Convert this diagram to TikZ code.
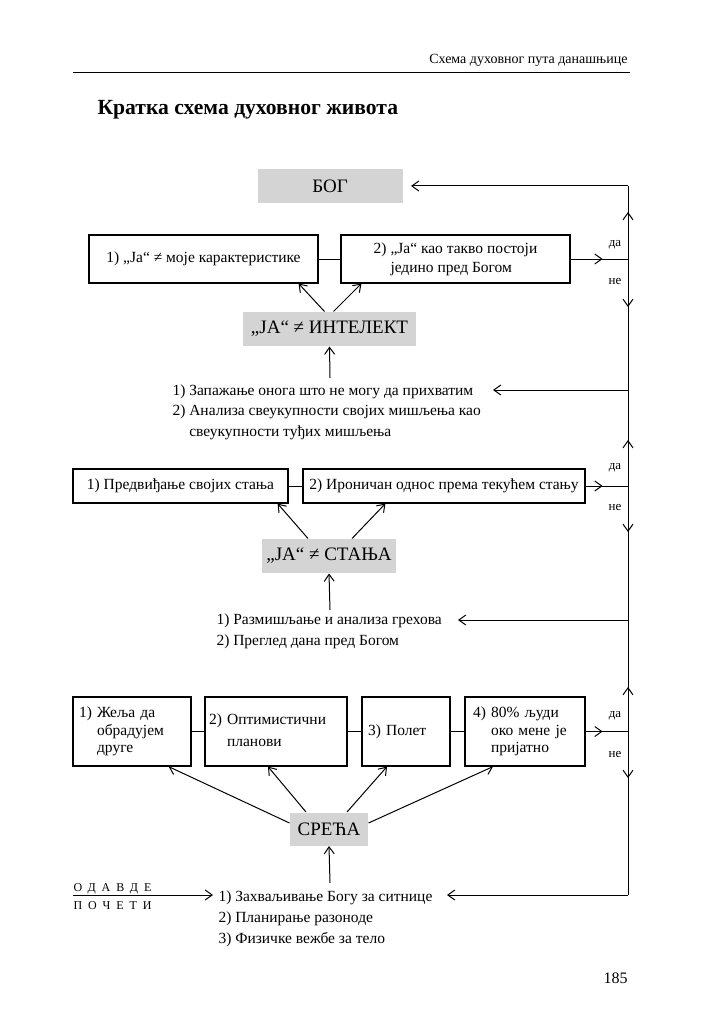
\documentclass[tikz,border=0pt]{standalone}
\usepackage{fontspec}
\setmainfont{Liberation Serif}
\usetikzlibrary{arrows.meta}
\definecolor{boxgray}{RGB}{212,212,212}
\newcommand\fbody{\fontsize{15.5}{19}\selectfont}
\newcommand\fbig{\fontsize{19}{23}\selectfont}
\newcommand\fsmall{\fontsize{13}{15}\selectfont}
\begin{document}
\begin{tikzpicture}[x=1pt,y=-1pt,
  >={Straight Barb[length=7pt,width=10pt]},
  line width=1pt,
  wbox/.style={draw,line width=1.2pt,inner sep=0pt,font=\fbody},
  gbox/.style={fill=boxgray,inner sep=0pt,font=\fbig},
  txt/.style={anchor=base west,inner sep=0pt,font=\fbody},
  yn/.style={anchor=base,inner sep=0pt,font=\fsmall},
  conn/.style={line width=1pt},
  arr/.style={->,line width=1pt}]
\useasboundingbox (0,0) rectangle (707,1024);
% header
\node[anchor=base east,inner sep=0pt,font=\fontsize{14}{16}\selectfont] (hdr) at (628,64) {Схема духовног пута данашњице};
\coordinate (rl) at (73,72); \coordinate (rr) at (630,72);
\draw[line width=0.9pt] (rl) -- (rr);
\node[anchor=base west,inner sep=0pt,font=\fontsize{21.6}{25}\selectfont\bfseries] (title) at (97,115) {Кратка схема духовног живота};
% bus
\coordinate (top) at (628,186);
\coordinate (j1) at (628,259);
\coordinate (r1) at (628,390);
\coordinate (j2) at (628,486);
\coordinate (r2) at (628,620);
\coordinate (j3) at (628,731.5);
\coordinate (bot) at (628,895);
\draw[conn] (top) -- (bot);
% top section
\node[gbox,minimum width=145pt,minimum height=34pt] (bog) at (330,186) {БОГ};
\node[wbox,minimum width=229pt,minimum height=48pt] (a1) at (203.5,259) {1) „Ја“ ≠ моје карактеристике};
\node[wbox,minimum width=229pt,minimum height=48pt,align=left] (a2) at (455.5,259) {2) „Ја“ као такво постоји\\\phantom{2) }једино пред Богом};
\node[gbox,minimum width=173pt,minimum height=34pt] (ja1) at (329.5,329) {„ЈА“ ≠ ИНТЕЛЕКТ};
\draw[arr] (top) -- ([xshift=8pt]bog.east);
\draw[conn] (a1.east) -- (a2.west);
\draw[conn] (a2.east) -- (j1);
\draw[arr] (a2.east) -- ([xshift=32pt]a2.east);
\draw[arr] (j1) -- ([yshift=47pt]j1);
\draw[arr] (j1) -- ([yshift=-48pt]j1);
\node[yn] (da1) at (615,246) {да};
\node[yn] (ne1) at (615,284) {не};
\draw[arr] ([xshift=-5pt]ja1.north) -- ([xshift=-20pt]a1.south east);
\draw[arr] ([xshift=4pt]ja1.north) -- ([xshift=21pt]a2.south west);
\coordinate (s1) at (330,378);
\draw[arr] (s1) -- (ja1.south);
\node[txt] (l1a) at (172,395) {1) Запажање онога што не могу да прихватим};
\node[txt] (l1b) at (172,415) {2) Анализа свеукупности својих мишљења као};
\node[txt] (l1c) at (172,436) {\phantom{2) }свеукупности туђих мишљења};
\coordinate (t1) at (493,390);
\draw[arr] (r1) -- (t1);
% middle section
\node[wbox,minimum width=215pt,minimum height=34pt] (c1) at (180.5,486) {1) Предвиђање својих стања};
\node[wbox,minimum width=282pt,minimum height=34pt] (c2) at (444,486) {2) Ироничан однос према текућем стању};
\draw[conn] (c1.east) -- (c2.west);
\draw[conn] (c2.east) -- (j2);
\draw[arr] (c2.east) -- ([xshift=17pt]c2.east);
\draw[arr] (j2) -- ([yshift=46pt]j2);
\draw[arr] (j2) -- ([yshift=-46pt]j2);
\node[yn] (da2) at (615,469) {да};
\node[yn] (ne2) at (615,510) {не};
\node[gbox,minimum width=134pt,minimum height=34pt] (ja2) at (329,556) {„ЈА“ ≠ СТАЊА};
\draw[arr] ([xshift=-21pt]ja2.north) -- ([xshift=-11pt]c1.south east);
\draw[arr] ([xshift=23pt]ja2.north) -- ([xshift=83pt]c2.south west);
\coordinate (s2) at (330,610);
\draw[arr] (s2) -- (ja2.south);
\node[txt] (l2a) at (216,624) {1) Размишљање и анализа грехова};
\node[txt] (l2b) at (216,645) {2) Преглед дана пред Богом};
\coordinate (t2) at (458,620);
\draw[arr] (r2) -- (t2);
% bottom section
\node[wbox,minimum width=118pt,minimum height=69pt,text width=106pt,inner xsep=6pt,align=left,font=\fontsize{15.5}{17.5}\selectfont] (d1) at (132,731.5) {1) Жеља да\\\phantom{1) }обрадујем\\\phantom{1) }друге};
\node[wbox,minimum width=142pt,minimum height=69pt,text width=134pt,inner xsep=4pt,align=left,font=\fontsize{15.5}{22}\selectfont] (d2) at (276,731.5) {2) Оптимистични\\\phantom{2) }планови};
\node[wbox,minimum width=88pt,minimum height=69pt,text width=76pt,inner xsep=6pt,align=left] (d3) at (406,731.5) {3) Полет};
\node[wbox,minimum width=120pt,minimum height=69pt,text width=104pt,inner xsep=8pt,align=left,font=\fontsize{15.5}{17.5}\selectfont] (d4) at (525,731.5) {4) 80\% људи\\\phantom{4) }око мене је\\\phantom{4) }пријатно};
\draw[conn] (d1.east) -- (d2.west);
\draw[conn] (d2.east) -- (d3.west);
\draw[conn] (d3.east) -- (d4.west);
\draw[conn] (d4.east) -- (j3);
\draw[arr] (d4.east) -- ([xshift=17pt]d4.east);
\draw[arr] (j3) -- ([yshift=44.5pt]j3);
\draw[arr] (j3) -- ([yshift=-46.5pt]j3);
\node[yn] (da3) at (615,717) {да};
\node[yn] (ne3) at (615,757) {не};
\node[gbox,minimum width=78pt,minimum height=33pt] (sr) at (329,829) {СРЕЋА};
\draw[arr] ([yshift=6pt]sr.west) -- ([xshift=-23pt]d1.south east);
\draw[arr] ([xshift=-23pt]sr.north) -- ([xshift=-8pt]d2.south);
\draw[arr] ([xshift=18pt]sr.north) -- ([xshift=-19pt]d3.south);
\draw[arr] ([yshift=6pt]sr.east) -- ([xshift=-32pt]d4.south);
\coordinate (s3) at (330,883);
\draw[arr] (s3) -- (sr.south);
\node[txt] (l3a) at (218,901) {1) Захваљивање Богу за ситнице};
\node[txt] (l3b) at (218,922) {2) Планирање разоноде};
\node[txt] (l3c) at (218,943) {3) Физичке вежбе за тело};
\coordinate (t3) at (447,895);
\draw[arr] (bot) -- (t3);
\node[anchor=base west,inner sep=0pt,font=\fontsize{12}{14}\selectfont\addfontfeature{LetterSpace=50}] (od) at (73,891) {ОДАВДЕ};
\node[anchor=base west,inner sep=0pt,font=\fontsize{12}{14}\selectfont\addfontfeature{LetterSpace=50}] (po) at (73,909) {ПОЧЕТИ};
\coordinate (st) at (73,895);
\coordinate (t4) at (213,895);
\draw[arr] (st) -- (t4);
\node[anchor=base east,inner sep=0pt,font=\fontsize{16}{18}\selectfont] (pg) at (628,983) {185};
\end{tikzpicture}
\end{document}
